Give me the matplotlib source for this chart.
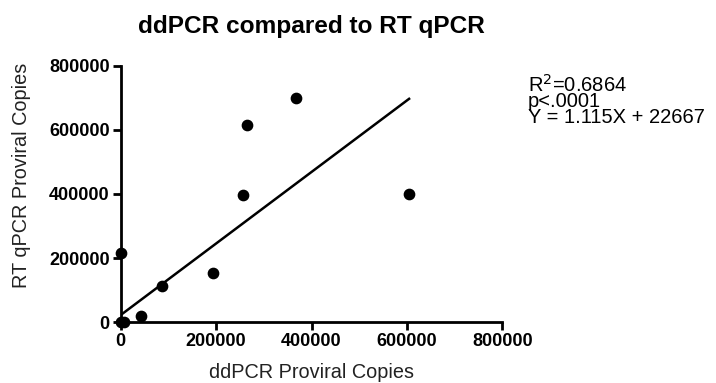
import matplotlib
matplotlib.use('Agg')
import matplotlib.pyplot as plt
import numpy as np

plt.rcParams['font.family'] = ['Liberation Sans', 'DejaVu Sans']

# data
ddpcr = [0, 0, 7000, 43000, 87000, 193500, 257000, 265000, 367500, 604500]
rtqpcr = [215000, 0, 0, 18700, 112000, 154000, 396000, 615000, 700000, 399000]

# regression from the chart's annotation
slope = 1.115
intercept = 22667
r2_text = 'R$^2$=0.6864'
p_text = 'p<.0001'
eq_text = 'Y = 1.115X + 22667'

ticks = [0, 200000, 400000, 600000, 800000]

fig = plt.figure(figsize=(7.16, 3.83), dpi=100)
ax = fig.add_axes([0.1686, 0.1585, 0.533, 0.67])

ax.scatter(ddpcr, rtqpcr, s=55, color='black', zorder=3, clip_on=False)

xl = np.array([min(ddpcr), max(ddpcr)])
ax.plot(xl, slope * xl + intercept, color='black', lw=1.8, zorder=2)

ax.set_xlim(0, 800000)
ax.set_ylim(0, 800000)
ax.set_xticks(ticks)
ax.set_yticks(ticks)
ax.set_xticklabels([str(t) for t in ticks], fontweight='bold', fontsize=13)
ax.set_yticklabels([str(t) for t in ticks], fontweight='bold', fontsize=13)

for s in ['top', 'right']:
    ax.spines[s].set_visible(False)
for s in ['left', 'bottom']:
    ax.spines[s].set_linewidth(2)
ax.tick_params(width=2, length=6, direction='out', pad=2)

ax.set_xlabel('ddPCR Proviral Copies', fontsize=14.3, color='#222222', labelpad=9)
ax.set_ylabel('RT qPCR Proviral Copies', fontsize=14.3, color='#222222')
ax.yaxis.set_label_coords(-0.235, 0.571)
ax.set_title('ddPCR compared to RT qPCR', fontsize=17.6, fontweight='bold', pad=23.5)

# stats text on the right, one block (baseline = last line)
stats = '\n'.join([r2_text, p_text, eq_text])
fig.text(0.737, 0.678, stats, fontsize=14.5, va='baseline', linespacing=0.8)

plt.savefig('out.png', dpi=100)
